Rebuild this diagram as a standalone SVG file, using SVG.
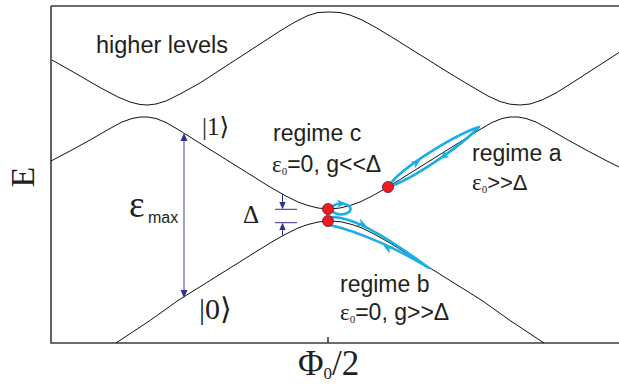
<svg xmlns="http://www.w3.org/2000/svg" xmlns:xlink="http://www.w3.org/1999/xlink" width="619" height="389" viewBox="0 0 619 389">
<style>
.frame{fill:none;stroke:#3c3c3c;stroke-width:1.6}
.lvl{fill:none;stroke:#111;stroke-width:1;stroke-linejoin:round}
.dim{stroke:#2e3192;stroke-width:1;fill:none}
.dimv{stroke:#6b6bc0;stroke-width:1.3;fill:none}
.ah{fill:#2e3192}
.loop{fill:none;stroke:#19aee6;stroke-width:2.6;stroke-linejoin:round}
.barrow{fill:#19aee6}
.dot{fill:#ec1c24;stroke:#7a0c10;stroke-width:0.8}
.sans{font-family:"Liberation Sans",Arial,sans-serif;fill:#231f20}
.serif{font-family:"Liberation Serif","DejaVu Serif","Times New Roman",serif;fill:#231f20}
</style>
<defs>
<path id="bah" d="M5,0 L-4,-4 L-1.5,0 L-4,4 Z"/>
</defs>
<g id="axes">
<path class="frame" d="M51,6 V343 H619 M51,6 H619"/>
<line class="frame" x1="328" y1="337" x2="328" y2="343" stroke-width="1.2"/>
</g>
<g id="levels">
<polyline id="higher" class="lvl" points="52,60 75,73 100,87.5 118,97 130,102 140,104.5 148,105 156,104 166,101 180,94 200,83 220,70 240,57 260,44 280,31 295,22 308,15.5 318,12.5 330,12 340,12.5 350,15 362,20 375,27 390,36 410,48.5 430,61 450,73.5 470,85.5 488,96 500,101.5 510,104.2 520,105 530,104 542,100 556,93 575,81 595,68 619,52.5"/>
<polyline id="level1" class="lvl" points="51,161 70,151 90,140 110,128.5 122,122 132,118.5 140,117 148,117 156,118.5 166,122.5 178,129.5 190,137 210,149.5 230,162 250,174.5 270,187 285,195.5 298,202 308,205.5 318,208 328,209 330,209 340,208 350,205.5 360,202 373,195.5 388,187 408,174.5 428,162 448,149.5 468,137 480,129.5 492,122.5 502,118.5 510,117 518,117 526,118.5 536,122 548,128.5 568,140 588,151 607,161 619,167"/>
<polyline id="level0" class="lvl" points="116,343 150,320.5 178,300.5 190,293 210,280.5 230,268 250,255.5 270,243 285,234.5 298,228 308,224.5 318,222 328,221 332,221 342,222 352,224.5 362,228 375,234.5 390,243 410,255.5 430,268 450,280.5 470,293 482,300.5 510,320.5 544,343"/>
</g>
<g id="emax-arrow">
<line class="dimv" x1="184" y1="140" x2="184" y2="291"/>
<polygon class="ah" points="184,133 180.5,141 187.5,141"/>
<polygon class="ah" points="184,298 180.5,290 187.5,290"/>
</g>
<g id="delta-arrows">
<line class="dim" x1="275" y1="209.3" x2="297" y2="209.3"/>
<line class="dim" x1="275" y1="222.7" x2="297" y2="222.7"/>
<line class="dim" x1="282.5" y1="194" x2="282.5" y2="203"/>
<line class="dim" x1="282.5" y1="229" x2="282.5" y2="236"/>
<polygon class="ah" points="282.5,209.3 279.3,202 285.7,202"/>
<polygon class="ah" points="282.5,222.7 279.3,230 285.7,230"/>
</g>
<g id="loops">
<path class="loop" d="M388,187 C400,168 455,135 479,127 C462,145 412,180 388,187 Z"/>
<use xlink:href="#bah" href="#bah" class="barrow" transform="translate(416,163) rotate(-33)"/>
<use xlink:href="#bah" href="#bah" class="barrow" transform="translate(444,156) rotate(147)"/>
<path class="loop" d="M330,217 C350,216 380,232 429,268 C400,250 360,232 330,225"/>
<use xlink:href="#bah" href="#bah" class="barrow" transform="translate(362,224) rotate(25)"/>
<use xlink:href="#bah" href="#bah" class="barrow" transform="translate(388,248) rotate(207)"/>
<ellipse class="loop" cx="341" cy="209" rx="9.5" ry="5.5"/>
<use xlink:href="#bah" href="#bah" class="barrow" transform="translate(341,203.5) rotate(0)"/>
</g>
<g id="dots">
<circle class="dot" cx="328" cy="209" r="5.5"/>
<circle class="dot" cx="328" cy="221" r="5.5"/>
<circle class="dot" cx="388" cy="187" r="5.5"/>
</g>
<g id="label-higher"><text class="sans" x="96" y="53" font-size="23.5">higher levels</text></g>
<g id="label-E"><text class="serif" font-size="34" text-anchor="middle" transform="translate(34,177) rotate(-90)">E</text></g>
<g id="label-phi"><text class="serif" x="298" y="375" font-size="35">Φ<tspan font-size="17" dy="4">0</tspan><tspan dy="-4">/2</tspan></text></g>
<g id="label-1"><text class="serif" x="202" y="135" font-size="25">|1⟩</text></g>
<g id="label-0"><text class="serif" x="199" y="319" font-size="30">|0⟩</text></g>
<g id="label-emax"><text class="serif" x="129" y="217" font-size="37">ε</text><text class="sans" x="148" y="223" font-size="16">max</text></g>
<g id="label-delta"><text class="serif" x="243" y="223" font-size="25">Δ</text></g>
<g id="label-c">
<text class="sans" x="273" y="141" font-size="23">regime c</text>
<text x="272" y="172"><tspan class="serif" font-size="23">ε</tspan><tspan class="serif" font-size="11" dy="3">0</tspan><tspan class="sans" font-size="23" dy="-3">=0, g&lt;&lt;Δ</tspan></text>
</g>
<g id="label-a">
<text class="sans" x="472" y="161" font-size="23">regime a</text>
<text x="472" y="190"><tspan class="serif" font-size="23">ε</tspan><tspan class="serif" font-size="11" dy="3">0</tspan><tspan class="sans" font-size="22" dy="-3">&gt;&gt;Δ</tspan></text>
</g>
<g id="label-b">
<text class="sans" x="340" y="292" font-size="23">regime b</text>
<text x="340" y="320"><tspan class="serif" font-size="23">ε</tspan><tspan class="serif" font-size="11" dy="3">0</tspan><tspan class="sans" font-size="23" dy="-3">=0, g&gt;&gt;Δ</tspan></text>
</g>
</svg>
